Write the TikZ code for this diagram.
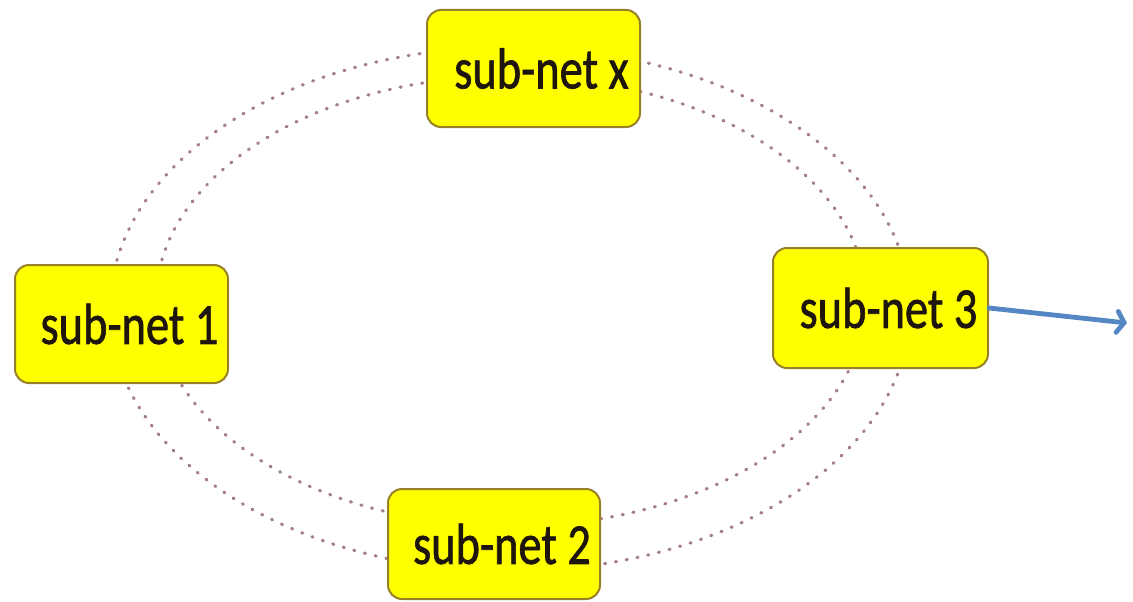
\documentclass[tikz,border=0pt]{standalone}
\usepackage{fontspec}
\setmainfont{Carlito}
\newfontfamily\lblfont{Carlito}[FakeBold=1.3]
\usetikzlibrary{arrows.meta}
\definecolor{ringcol}{RGB}{165,125,138}
\definecolor{boxborder}{RGB}{150,128,40}
\definecolor{boxfill}{RGB}{255,255,0}
\definecolor{arrowcol}{RGB}{84,134,196}
\definecolor{txtcol}{RGB}{30,22,12}
\newcommand{\lbl}[1]{\hspace*{16pt}\scalebox{0.8}[1]{#1}}
\tikzset{
  ring/.style={draw=ringcol, line width=3.2pt, line cap=round, dash pattern=on 1pt off 10pt},
  netbox/.style={draw=boxborder, fill=boxfill, line width=2pt, rounded corners=14pt,
    minimum width=213pt, minimum height=117pt, inner sep=0pt, text=txtcol,
    font=\fontsize{58pt}{60pt}\lblfont},
  outarrow/.style={draw=arrowcol, line width=4.8pt, line cap=round,
    -{Straight Barb[length=7pt,width=21pt,line cap=round]}}
}
\begin{document}
\begin{tikzpicture}[x=1pt,y=-1pt]
\useasboundingbox (0,0) rectangle (1133,602);
% rings
\draw[ring] (510,309) ellipse [x radius=400pt, y radius=262pt];
\draw[ring] (511,301) ellipse [x radius=355pt, y radius=225pt];
% sub-nets
\node[netbox] (nx) at (533.5,68.5) {\lbl{sub-net x}};
\node[netbox, minimum width=215pt, minimum height=120pt] (n3) at (880.5,308) {\lbl{sub-net 3}};
\node[netbox, minimum height=118pt] (n1) at (121.5,324) {\lbl{sub-net 1}};
\node[netbox, minimum width=212pt, minimum height=110pt] (n2) at (494,544) {\lbl{sub-net 2}};
% outgoing arrow
\coordinate (out) at (1127,323);
\draw[outarrow] (n3.east) -- (out);
\end{tikzpicture}
\end{document}
